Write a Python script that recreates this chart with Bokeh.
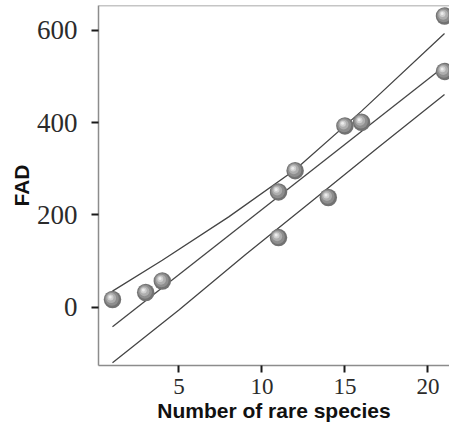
from bokeh.plotting import figure
from bokeh.models import Range1d, FixedTicker, Span, ColumnDataSource
from bokeh.transform import dodge
from bokeh.embed import file_html
from bokeh.resources import INLINE

# ---- data ----
rare_species = [1, 3, 4, 11, 11, 12, 14, 15, 16, 21, 21]
fad = [17, 32, 57, 250, 151, 296, 238, 393, 401, 631, 511]

fit_x = [1, 21]
fit_y = [-42, 522]
upper_x = [1, 4, 8, 12, 16, 21]
upper_y = [35, 102, 196, 298, 425, 593]
lower_x = [1, 5, 9, 13, 17, 21]
lower_y = [-120, -6, 114, 230, 346, 461]

x_ticks = [5, 10, 15, 20]
y_ticks = [0, 200, 400, 600]

Y_TOP = 653.8
src = ColumnDataSource(dict(x=rare_species, y=fad))

p = figure(width=449, height=427,
           x_range=Range1d(0.157, 21.3), y_range=Range1d(-126, Y_TOP),
           output_backend="svg", toolbar_location=None,
           min_border_left=98, min_border_right=0,
           min_border_top=5, min_border_bottom=62)
p.outline_line_color = None
p.xgrid.visible = False
p.ygrid.visible = False
p.background_fill_color = "white"
p.border_fill_color = "white"

# top border of the frame
p.add_layout(Span(location=Y_TOP, dimension="width", line_color="#8c8c8c", line_width=1.5))

# regression line and confidence band
for lx, ly in ((fit_x, fit_y), (upper_x, upper_y), (lower_x, lower_y)):
    p.line(lx, ly, line_color="#454545", line_width=1.3)

# shaded spheres
p.scatter("x", "y", source=src, size=17.5, fill_color="#727272", line_color=None)
p.scatter(dodge("x", -0.04, range=p.x_range), dodge("y", 1.5, range=p.y_range), source=src,
          size=14, fill_color="#8e8e8e", line_color=None)
p.scatter(dodge("x", -0.08, range=p.x_range), dodge("y", 3.0, range=p.y_range), source=src,
          size=10, fill_color="#aeaeae", line_color=None)
p.scatter(dodge("x", -0.12, range=p.x_range), dodge("y", 4.5, range=p.y_range), source=src,
          size=6, fill_color="#cfcfcf", line_color=None)
p.scatter(dodge("x", -0.14, range=p.x_range), dodge("y", 5.5, range=p.y_range), source=src,
          size=3, fill_color="#ececec", line_color=None)

# axes
for ax in (p.xaxis, p.yaxis):
    ax.axis_line_color = "#8c8c8c"
    ax.axis_line_width = 1.5
    ax.major_tick_line_color = "#1a1a1a"
    ax.major_tick_line_width = 2
    ax.major_tick_out = 7
    ax.major_tick_in = 0
    ax.minor_tick_line_color = None
    ax.major_label_text_font = "Liberation Serif"
    ax.major_label_text_color = "#2b2b2b"
    ax.axis_label_text_font = "Liberation Sans"
    ax.axis_label_text_font_style = "bold"
    ax.axis_label_text_color = "#111111"
    ax.axis_label_text_font_size = "21px"

p.xaxis.ticker = FixedTicker(ticks=x_ticks)
p.yaxis.ticker = FixedTicker(ticks=y_ticks)
p.xaxis.major_label_text_font_size = "23px"
p.yaxis.major_label_text_font_size = "27px"
p.xaxis.major_label_standoff = 6
p.xaxis.axis_label_standoff = 2
p.yaxis.major_label_standoff = 14
p.yaxis.axis_label_standoff = 1
p.xaxis.axis_label = "Number of rare species"
p.yaxis.axis_label = "FAD"

open("out.html", "w").write(file_html(p, INLINE))
